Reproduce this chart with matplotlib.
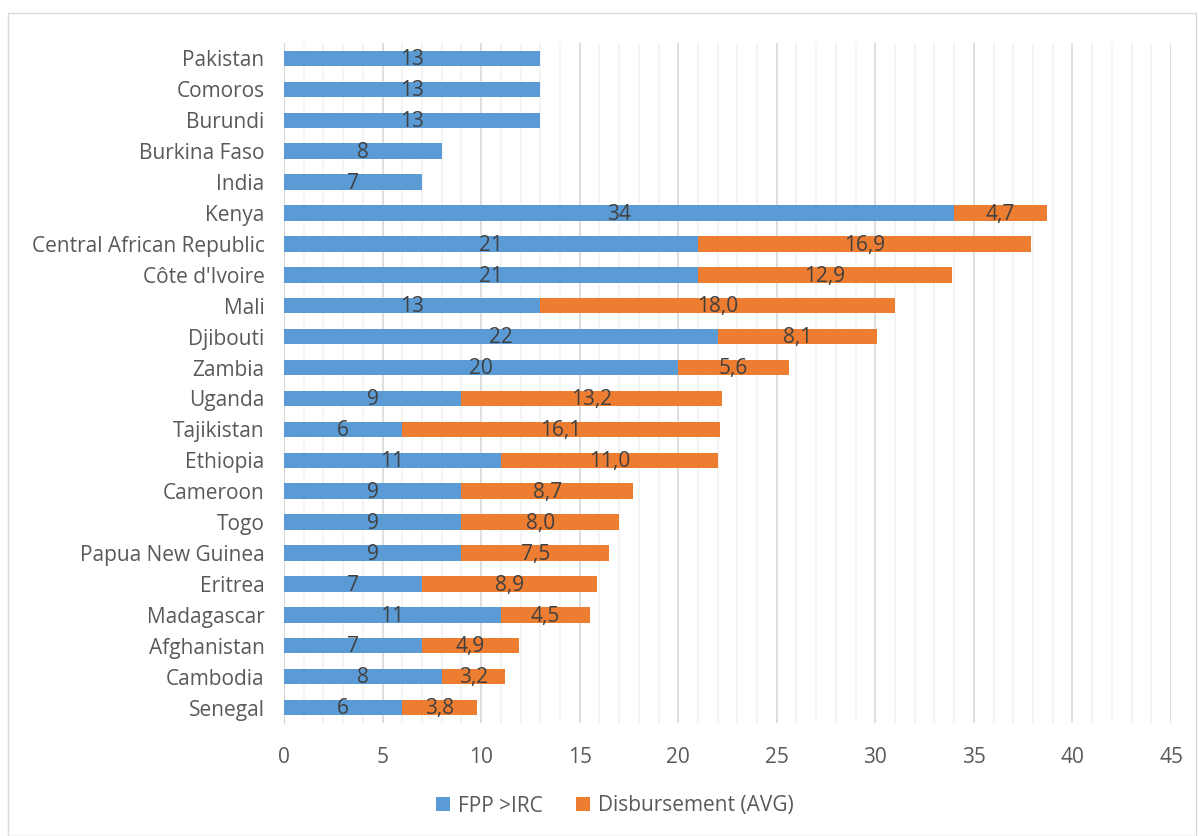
import matplotlib.pyplot as plt
import numpy as np
from matplotlib.patches import Rectangle
from matplotlib.ticker import MultipleLocator

plt.rcParams['font.family'] = ['Open Sans', 'DejaVu Sans']

# data, bottom to top as drawn
countries = ["Senegal", "Cambodia", "Afghanistan", "Madagascar", "Eritrea",
             "Papua New Guinea", "Togo", "Cameroon", "Ethiopia", "Tajikistan",
             "Uganda", "Zambia", "Djibouti", "Mali", "Côte d'Ivoire",
             "Central African Republic", "Kenya", "India", "Burkina Faso",
             "Burundi", "Comoros", "Pakistan"]
fpp_irc = [6, 8, 7, 11, 7, 9, 9, 9, 11, 6, 9, 20, 22, 13, 21, 21, 34, 7, 8, 13, 13, 13]
disbursement = [3.8, 3.2, 4.9, 4.5, 8.9, 7.5, 8.0, 8.7, 11.0, 16.1, 13.2, 5.6, 8.1,
                18.0, 12.9, 16.9, 4.7, 0, 0, 0, 0, 0]

blue = '#5B9BD5'
orange = '#ED7D31'
text_col = '#404040'
tick_col = '#595959'

fig = plt.figure(figsize=(11.98, 8.36), dpi=100)
ax = fig.add_axes([284 / 1198, 1 - 723 / 836, (1171 - 284) / 1198, (723 - 43) / 836])

y = np.arange(len(countries))
b1 = ax.barh(y, fpp_irc, height=0.5, color=blue, label='FPP >IRC', zorder=3)
b2 = ax.barh(y, disbursement, left=fpp_irc, height=0.5, color=orange,
             label='Disbursement (AVG)', zorder=3)

for i in range(len(countries)):
    ax.text(fpp_irc[i] / 2, y[i] - 0.04, f"{fpp_irc[i]}", ha='center', va='center',
            fontsize=15, color=text_col, zorder=4)
    if disbursement[i] > 0:
        ax.text(fpp_irc[i] + disbursement[i] / 2, y[i] - 0.04,
                f"{disbursement[i]:.1f}".replace('.', ','), ha='center', va='center',
                fontsize=15, color=text_col, zorder=4)

ax.set_xlim(0, 45)
ax.set_ylim(-0.5, len(countries) - 0.5)
ax.xaxis.set_major_locator(MultipleLocator(5))
ax.xaxis.set_minor_locator(MultipleLocator(1))
ax.grid(axis='x', which='major', color='#D9D9D9', linewidth=1.2, zorder=0)
ax.grid(axis='x', which='minor', color='#F2F2F2', linewidth=1.2, zorder=0)
ax.set_yticks(y)
ax.set_yticklabels(countries)
ax.tick_params(axis='both', which='both', length=0, labelsize=15, colors=tick_col)
ax.tick_params(axis='x', pad=17)
ax.tick_params(axis='y', pad=14)
for s in ['top', 'right', 'bottom']:
    ax.spines[s].set_visible(False)
ax.spines['left'].set_color('#D9D9D9')

fig.legend(handles=[b1, b2], loc='center', bbox_to_anchor=(615 / 1198, 1 - 806 / 836),
           ncol=2, frameon=False, fontsize=15, labelcolor=tick_col,
           handlelength=0.65, handleheight=0.65, handletextpad=0.4, columnspacing=1.6)

fig.patches.append(Rectangle((8 / 1198, 0.0), 1188 / 1198, 1 - 13 / 836,
                             transform=fig.transFigure, fill=False,
                             edgecolor='#D9D9D9', linewidth=1))

fig.savefig('out.png', dpi=100, facecolor='white')
